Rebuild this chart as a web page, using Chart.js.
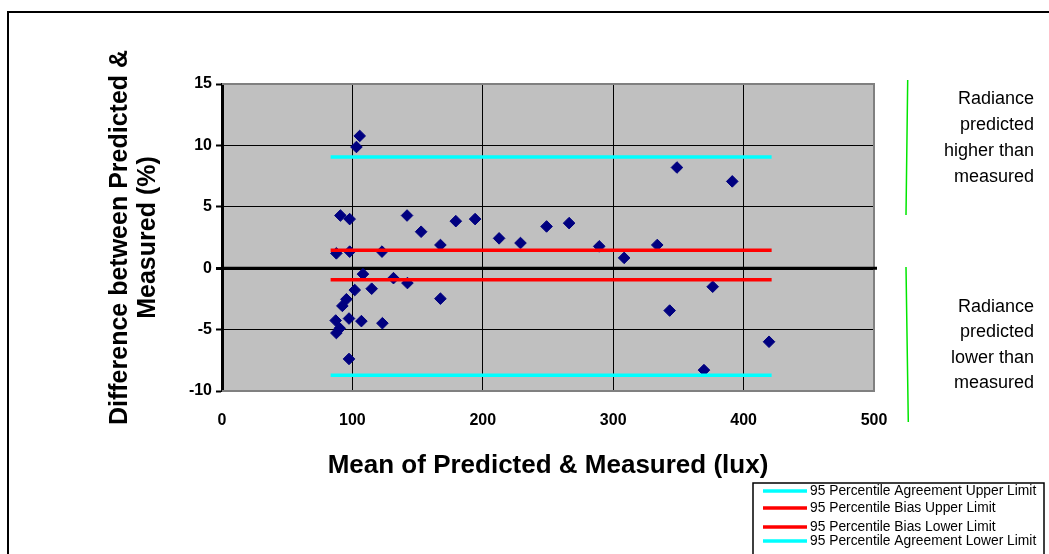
<!DOCTYPE html>
<html>
<head>
<meta charset="utf-8">
<title>Bland-Altman: Predicted vs Measured Illuminance</title>
<script src="https://cdn.jsdelivr.net/npm/chart.js@4"></script>
<style>
  html, body { margin: 0; padding: 0; background: #ffffff; }
  canvas { display: block; }
</style>
</head>
<body>
<canvas id="chart" width="1049" height="554"></canvas>
<script>
// Mean of predicted & measured illuminance (lux) for each sample
const meanLux = [105.6, 103.1, 90.8, 97.9, 141.9, 152.7, 179.3, 194.1, 212.5, 228.9,
                 248.9, 266.2, 87.7, 97.9, 122.7, 167.5, 289.3, 333.8, 308.4, 108.1,
                 131.5, 142.2, 101.8, 114.8, 95.4, 92.3, 167.5, 87.2, 97.4, 106.9,
                 123.0, 90.3, 87.7, 97.4, 348.9, 391.3, 376.3, 343.3, 419.5, 369.6];
// Difference between predicted & measured (%) for each sample
const diffPct = [10.77, 9.87, 4.29, 4.0, 4.29, 2.97, 3.83, 4.0, 2.43, 2.05,
                 3.4, 3.67, 1.21, 1.35, 1.35, 1.89, 1.78, 1.89, 0.84, -0.48,
                 -0.81, -1.21, -1.78, -1.67, -2.53, -3.07, -2.48, -4.26, -4.1, -4.31,
                 -4.48, -4.9, -5.28, -7.39, 8.2, 7.07, -1.51, -3.45, -5.99, -8.3];

// Horizontal limit lines: names, levels and the x span they cover
const limitNames = ['95 Percentile Agreement Upper Limit', '95 Percentile Bias Upper Limit',
                    '95 Percentile Bias Lower Limit', '95 Percentile Agreement Lower Limit'];
const limitLevels = [9.06, 1.46, -0.94, -8.71];
const limitColors = ['#00FFFF', '#FF0000', '#FF0000', '#00FFFF'];
const limitSpan = [83.3, 421.5];

// Axis ticks
const xTicks = [0, 100, 200, 300, 400, 500];
const yTicks = [-10, -5, 0, 5, 10, 15];

// Side notes
const noteAbove = ['Radiance', 'predicted', 'higher than', 'measured'];
const noteBelow = ['Radiance', 'predicted', 'lower than', 'measured'];

const FONT = "'Liberation Sans', Arial, sans-serif";
Chart.defaults.font.family = FONT;

const limitDatasets = limitLevels.map((lvl, i) => ({
  label: limitNames[i],
  type: 'line',
  data: limitSpan.map(x => ({ x: x, y: lvl })),
  borderColor: limitColors[i],
  backgroundColor: limitColors[i],
  borderWidth: 3.5,
  pointRadius: 0,
  fill: false,
  tension: 0
}));

const pointDataset = {
  label: 'Samples',
  type: 'scatter',
  data: meanLux.map((x, i) => ({ x: x, y: diffPct[i] })),
  pointStyle: 'rectRot',
  pointRadius: 5.8,
  backgroundColor: '#000080',
  borderColor: '#000080',
  borderWidth: 1
};

// Plot background, frame, notes and legend drawn around the chart area
const decorations = {
  id: 'decorations',
  beforeDraw(chart) {
    const { ctx, chartArea: a } = chart;
    ctx.save();
    ctx.fillStyle = '#ffffff';
    ctx.fillRect(0, 0, chart.width, chart.height);
    ctx.fillStyle = '#C0C0C0';
    ctx.fillRect(a.left, a.top, a.right - a.left, a.bottom - a.top);
    ctx.restore();
  },
  beforeDatasetsDraw(chart) {
    const { ctx, chartArea: a } = chart;
    ctx.save();
    ctx.strokeStyle = '#808080';
    ctx.lineWidth = 2;
    ctx.beginPath();
    ctx.moveTo(a.left, a.top);
    ctx.lineTo(a.right, a.top);
    ctx.lineTo(a.right, a.bottom);
    ctx.lineTo(a.left, a.bottom);
    ctx.stroke();
    // zero line over the frame
    const y0 = chart.scales.y.getPixelForValue(0);
    ctx.strokeStyle = '#000000';
    ctx.lineWidth = 3;
    ctx.beginPath();
    ctx.moveTo(a.left, y0);
    ctx.lineTo(a.right + 3, y0);
    ctx.stroke();
    ctx.restore();
  },
  afterDraw(chart) {
    const { ctx } = chart;
    ctx.save();
    // outer frame
    ctx.strokeStyle = '#000000';
    ctx.lineWidth = 2;
    ctx.strokeRect(8, 12, 1100, 600);

    // green brackets
    ctx.strokeStyle = '#00E600';
    ctx.lineWidth = 1.5;
    ctx.beginPath();
    ctx.moveTo(907.7, 80); ctx.lineTo(906, 215);
    ctx.moveTo(906, 267); ctx.lineTo(908.3, 422);
    ctx.stroke();

    // side notes
    ctx.fillStyle = '#000000';
    ctx.font = '18px ' + FONT;
    ctx.textAlign = 'right';
    ctx.textBaseline = 'middle';
    noteAbove.forEach((t, i) => ctx.fillText(t, 1034, 99 + i * 26));
    noteBelow.forEach((t, i) => ctx.fillText(t, 1034, 307 + i * 25.5));

    // legend
    ctx.fillStyle = '#ffffff';
    ctx.fillRect(753, 483, 291, 100);
    ctx.strokeStyle = '#000000';
    ctx.lineWidth = 1.5;
    ctx.strokeRect(753, 483, 291, 100);
    const rows = [491, 508, 527, 541];
    ctx.font = '13.8px ' + FONT;
    ctx.textAlign = 'left';
    limitNames.forEach((name, i) => {
      ctx.strokeStyle = limitColors[i];
      ctx.lineWidth = 3.5;
      ctx.beginPath();
      ctx.moveTo(763, rows[i]);
      ctx.lineTo(807, rows[i]);
      ctx.stroke();
      ctx.fillStyle = '#000000';
      ctx.fillText(name, 810, rows[i]);
    });
    ctx.restore();
  }
};

new Chart(document.getElementById('chart'), {
  type: 'scatter',
  data: { datasets: [...limitDatasets, pointDataset] },
  options: {
    responsive: false,
    animation: false,
    devicePixelRatio: 1,
    layout: { padding: { left: 106, top: 84, right: 175, bottom: 0 } },
    plugins: { legend: { display: false }, tooltip: { enabled: false } },
    scales: {
      x: {
        type: 'linear',
        position: 'bottom',
        min: xTicks[0],
        max: xTicks[xTicks.length - 1],
        afterBuildTicks: s => { s.ticks = xTicks.map(v => ({ value: v })); },
        afterFit: s => { s.height = 163; },
        ticks: { font: { size: 16, weight: 'bold' }, color: '#000000', padding: 20 },
        grid: {
          color: '#000000',
          lineWidth: 1,
          drawTicks: false
        },
        border: { display: false },
        title: {
          display: true,
          text: 'Mean of Predicted & Measured (lux)',
          font: { size: 26, weight: 'bold' },
          color: '#000000',
          padding: { top: 0, bottom: 73 }
        }
      },
      y: {
        type: 'linear',
        min: yTicks[0],
        max: yTicks[yTicks.length - 1],
        afterBuildTicks: s => { s.ticks = yTicks.map(v => ({ value: v })); },
        afterFit: s => { s.width = 116; },
        ticks: { font: { size: 16, weight: 'bold' }, color: '#000000', padding: 4 },
        grid: {
          color: '#000000',
          lineWidth: c => (c.tick && c.tick.value === 0 ? 3 : 1),
          tickLength: 6,
          tickWidth: c => (c.tick && c.tick.value === 0 ? 3 : 2)
        },
        border: { display: true, color: '#000000', width: 3 },
        title: {
          display: true,
          text: ['Difference between Predicted &', 'Measured (%)'],
          font: { size: 25, weight: 'bold', lineHeight: 1.12 },
          color: '#000000',
          padding: { top: 0, bottom: 0 }
        }
      }
    }
  },
  plugins: [decorations]
});
</script>
</body>
</html>
